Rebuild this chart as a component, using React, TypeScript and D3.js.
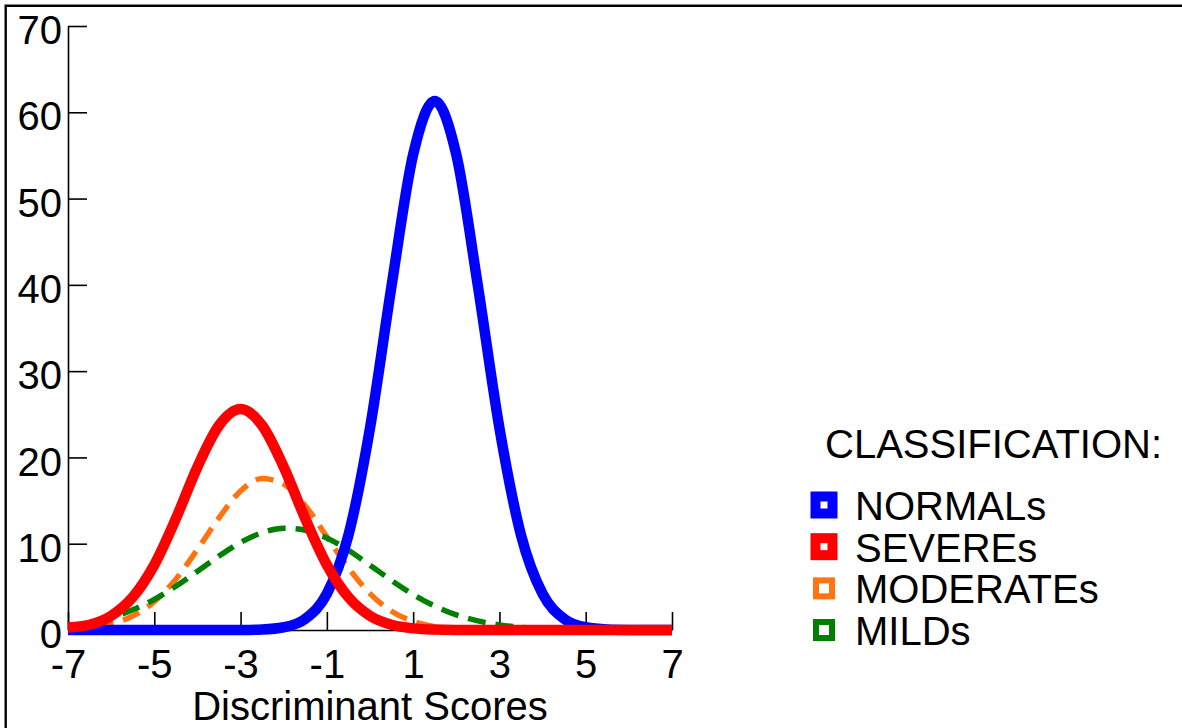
import { axisBottom, axisLeft, curveMonotoneX, line, scaleLinear, select } from "d3";
import { useEffect, useRef } from "react";

// discriminant score grid (x values the curves were read at)
const scores = [
  -7, -6.5, -6, -5.5, -5, -4.5, -4, -3.5, -3, -2.5, -2, -1.5, -1, -0.5, 0, 0.5, 1, 1.5, 2, 2.5, 3, 3.5,
  4, 4.5, 5, 5.5, 6, 6.5, 7,
];

const normals = [
  0, 0, 0, 0, 0, 0, 0, 0, 0.01, 0.06, 0.32, 1.3, 4.2, 11.0, 23.4, 39.9, 55.1, 61.3, 55.1, 39.9, 23.4,
  11.0, 4.2, 1.3, 0.32, 0.06, 0.01, 0, 0,
];
const severes = [
  0.3, 0.61, 1.64, 3.8, 7.55, 12.9, 18.9, 23.7, 25.6, 23.7, 18.9, 12.9, 7.55, 3.8, 1.64, 0.61, 0.19,
  0.05, 0.01, 0, 0, 0, 0, 0, 0, 0, 0, 0, 0,
];
const moderates = [
  0.09, 0.27, 0.71, 1.62, 3.29, 5.89, 9.33, 13.0, 16.1, 17.56, 16.9, 14.4, 10.8, 7.19, 4.22, 2.18, 1.0,
  0.4, 0.14, 0.05, 0.01, 0, 0, 0, 0, 0, 0, 0, 0,
];
const milds = [
  0.46, 0.84, 1.44, 2.34, 3.55, 5.07, 6.8, 8.57, 10.15, 11.28, 11.79, 11.57, 10.67, 9.24, 7.51, 5.74,
  4.12, 2.78, 1.76, 1.05, 0.59, 0.31, 0.15, 0.07, 0.03, 0.01, 0, 0, 0,
];

const xTicks = [-7, -5, -3, -1, 1, 3, 5, 7];
const yTicks = [0, 10, 20, 30, 40, 50, 60, 70];

const series = [
  { label: "NORMALs", values: normals, color: "#0000ff", dashed: false },
  { label: "SEVEREs", values: severes, color: "#ff0000", dashed: false },
  { label: "MODERATEs", values: moderates, color: "#ff7410", dashed: true },
  { label: "MILDs", values: milds, color: "#008000", dashed: true },
];
// dashed curves sit underneath, red is drawn last
const drawOrder = [2, 3, 0, 1];

const FONT = "'Liberation Sans', Arial, Helvetica, sans-serif";
const FONT_SIZE = "40px";

export default function App() {
  const svgRef = useRef<SVGSVGElement | null>(null);

  useEffect(() => {
    if (!svgRef.current) return;
    const svg = select(svgRef.current);
    svg.selectAll("*").remove();

    const width = 1182;
    const height = 728;
    const margin = { top: 26, left: 68, right: 510, bottom: 98 };
    const innerWidth = width - margin.left - margin.right;
    const innerHeight = height - margin.top - margin.bottom;

    const x = scaleLinear().domain([-7, 7]).range([0, innerWidth]);
    const y = scaleLinear().domain([0, 70]).range([innerHeight, 0]);

    // frame (left + top edges only)
    svg
      .append("path")
      .attr("d", `M5.7,${height} V5.7 H${width}`)
      .attr("fill", "none")
      .attr("stroke", "#000")
      .attr("stroke-width", 2.4);

    const chart = svg.append("g").attr("transform", `translate(${margin.left},${margin.top})`);

    const yAxisGroup = chart.append("g").call(
      axisLeft(y)
        .tickValues(yTicks)
        .tickFormat((d) => String(d))
        .tickSizeInner(-19)
        .tickSizeOuter(0)
        .tickPadding(6),
    );
    yAxisGroup.selectAll("path, line").attr("stroke", "#000").attr("stroke-width", 1.6);
    yAxisGroup
      .selectAll("text")
      .attr("dy", "0.44em")
      .attr("fill", "#000")
      .style("font-family", FONT)
      .style("font-size", FONT_SIZE);

    const xAxisGroup = chart
      .append("g")
      .attr("transform", `translate(0,${innerHeight})`)
      .call(
        axisBottom(x)
          .tickValues(xTicks)
          .tickFormat((d) => String(d))
          .tickSizeInner(-18)
          .tickSizeOuter(0)
          .tickPadding(19.5),
      );
    xAxisGroup.selectAll("path, line").attr("stroke", "#000").attr("stroke-width", 1.6);
    xAxisGroup
      .selectAll("text")
      .attr("fill", "#000")
      .style("font-family", FONT)
      .style("font-size", FONT_SIZE);

    chart
      .append("text")
      .attr("x", innerWidth / 2)
      .attr("y", innerHeight + 90)
      .attr("text-anchor", "middle")
      .style("font-family", FONT)
      .style("font-size", FONT_SIZE)
      .text("Discriminant Scores");

    const curve = line<number>()
      .x((_, i) => x(scores[i]))
      .y((v) => y(v))
      .curve(curveMonotoneX);

    drawOrder.forEach((idx) => {
      const s = series[idx];
      chart
        .append("path")
        .attr("d", curve(s.values) ?? "")
        .attr("fill", "none")
        .attr("stroke", s.color)
        .attr("stroke-width", s.dashed ? 5.5 : 10.5)
        .attr("stroke-linejoin", "round")
        .attr("stroke-dasharray", s.dashed ? "18 10" : null);
    });

    // legend
    const legend = svg.append("g").attr("transform", "translate(825,0)");
    legend
      .append("text")
      .attr("x", 0)
      .attr("y", 458)
      .style("font-family", FONT)
      .style("font-size", FONT_SIZE)
      .text("CLASSIFICATION:");

    series.forEach((s, i) => {
      const baseline = 520 + i * 41.67;
      const item = legend.append("g").attr("transform", `translate(0,${baseline})`);
      const side = s.dashed ? 16 : 17;
      item
        .append("rect")
        .attr("x", -1 - side / 2)
        .attr("y", -15 - side / 2)
        .attr("width", side)
        .attr("height", side)
        .attr("fill", "#fff")
        .attr("stroke", s.color)
        .attr("stroke-width", s.dashed ? 6 : 10);
      item
        .append("text")
        .attr("x", 30)
        .attr("y", 0)
        .style("font-family", FONT)
        .style("font-size", FONT_SIZE)
        .text(s.label);
    });
  }, []);

  return (
    <svg
      ref={svgRef}
      width={1182}
      height={728}
      style={{ position: "absolute", left: 0, top: 0, background: "#fff" }}
      role="img"
      aria-label="Discriminant score distributions by classification"
    />
  );
}
